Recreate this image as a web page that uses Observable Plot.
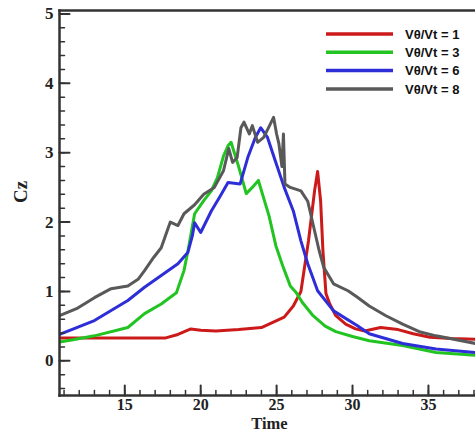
<!DOCTYPE html>
<html>
<head>
<meta charset="utf-8">
<script src="https://cdn.jsdelivr.net/npm/d3@7"></script>
<script src="https://cdn.jsdelivr.net/npm/@observablehq/plot@0.6"></script>
<style>
  html, body { margin: 0; padding: 0; background: #fff; }
  #chart svg { display: block; }
</style>
</head>
<body>
<div id="chart"></div>
<script>
// ---- data ----
const seriesNames = ["Vθ/Vt = 1", "Vθ/Vt = 3", "Vθ/Vt = 6", "Vθ/Vt = 8"];
const seriesColors = ["#cc1a1a", "#22c422", "#2e2ed8", "#595959"];

const t1 = [10.7, 12, 14, 16, 17.7, 18.5, 19.35, 20, 21, 22.5, 24, 24.5, 25.5, 26.1, 26.6, 27.1, 27.5, 27.7, 27.9, 28.05, 28.25, 28.5, 28.9, 29.55, 30.2, 30.8, 31.85, 33, 34, 35.1, 36.5, 38.1];
const v1 = [0.33, 0.33, 0.33, 0.33, 0.33, 0.38, 0.46, 0.44, 0.43, 0.45, 0.48, 0.53, 0.63, 0.79, 1.0, 1.73, 2.45, 2.73, 2.3, 1.59, 0.97, 0.82, 0.65, 0.53, 0.46, 0.43, 0.48, 0.45, 0.39, 0.34, 0.32, 0.31];

const t3 = [10.7, 11.5, 13.0, 15.2, 16.3, 17.4, 18.4, 18.9, 19.2, 19.6, 20.2, 20.7, 21.1, 21.5, 21.8, 22.0, 22.5, 23.0, 23.4, 23.8, 24.5, 24.95, 25.4, 25.9, 26.3, 26.7, 27.4, 28.2, 28.9, 30.0, 31.1, 33.3, 35.5, 38.1];
const v3 = [0.27, 0.3, 0.36, 0.48, 0.68, 0.82, 0.98, 1.3, 1.63, 2.12, 2.31, 2.45, 2.64, 2.95, 3.1, 3.15, 2.8, 2.41, 2.5, 2.6, 2.09, 1.66, 1.37, 1.08, 0.98, 0.84, 0.65, 0.5, 0.42, 0.35, 0.29, 0.22, 0.12, 0.08];

const t6 = [10.7, 11.5, 13.0, 15.2, 16.3, 17.4, 18.5, 19.15, 19.45, 19.6, 20.0, 20.7, 21.3, 21.8, 22.6, 23.1, 23.6, 23.95, 24.4, 24.9, 25.5, 26.1, 26.6, 27.05, 27.7, 28.75, 30.3, 31.1, 33.3, 35.5, 38.1];
const v6 = [0.38, 0.45, 0.58, 0.87, 1.06, 1.23, 1.4, 1.56, 1.8, 1.99, 1.85, 2.16, 2.38, 2.57, 2.55, 2.93, 3.22, 3.36, 3.22, 2.89, 2.5, 2.16, 1.73, 1.4, 1.01, 0.72, 0.51, 0.39, 0.25, 0.17, 0.12];

const t8 = [10.7, 11.9, 13.0, 14.1, 15.2, 15.9, 16.3, 16.9, 17.4, 17.8, 18.0, 18.5, 18.9, 19.6, 20.2, 20.9, 21.5, 21.85, 22.1, 22.4, 22.65, 22.85, 23.2, 23.4, 23.75, 24.15, 24.6, 24.8, 25.0, 25.15, 25.35, 25.45, 25.55, 25.9, 26.6, 27.05, 27.8, 28.1, 28.75, 29.7, 30.3, 31.1, 32.2, 33.3, 34.4, 35.5, 38.1];
const v8 = [0.65, 0.76, 0.91, 1.04, 1.08, 1.18, 1.3, 1.49, 1.63, 1.88, 2.0, 1.95, 2.12, 2.25, 2.4, 2.5, 2.74, 3.06, 2.86, 2.93, 3.36, 3.44, 3.27, 3.39, 3.15, 3.22, 3.42, 3.51, 3.27, 3.13, 2.8, 3.27, 2.55, 2.5, 2.45, 2.3, 1.59, 1.35, 1.11, 1.01, 0.92, 0.79, 0.65, 0.53, 0.42, 0.36, 0.25];

const xDomain = [10.7, 38.1];
const yDomain = [-0.5, 5.05];
const xTickLabels = [15, 20, 25, 30, 35];
const yTickLabels = [0, 1, 2, 3, 4, 5];
const xMinorTicks = d3.range(11, 39, 1);
const yMinorTicks = d3.range(-0.4, 5.01, 0.2).map(v => Math.round(v * 10) / 10);
const xLabel = "Time";
const yLabel = "Cz";

// ---- build table ----
const allT = [t1, t3, t6, t8];
const allV = [v1, v3, v6, v8];
const rows = [];
seriesNames.forEach((name, i) => {
  allT[i].forEach((t, j) => rows.push({series: name, t, v: allV[i][j]}));
});

const serif = "'Liberation Serif', 'Times New Roman', serif";
const sans = "'Liberation Sans', Arial, sans-serif";
const axisColor = "#333";

const tickShape = {draw(ctx, l) { ctx.moveTo(0, 0); ctx.lineTo(0, -l); }};

const chart = Plot.plot({
  width: 475,
  height: 434,
  marginLeft: 59,
  marginRight: 0,
  marginTop: 10,
  marginBottom: 39,
  x: {domain: xDomain},
  y: {domain: yDomain},
  color: {domain: seriesNames, range: seriesColors},
  style: {background: "#fff"},
  marks: [
    Plot.line(rows, {x: "t", y: "v", z: "series", stroke: "series", strokeWidth: 3, clip: true, curve: "linear"}),
    // minor ticks (inward)
    Plot.vector(yMinorTicks, {y: d => d, frameAnchor: "left", length: 5, rotate: 90, anchor: "start", shape: tickShape, stroke: axisColor, strokeWidth: 1.5}),
    Plot.vector(xMinorTicks, {x: d => d, frameAnchor: "bottom", length: 5, rotate: 0, anchor: "start", shape: tickShape, stroke: axisColor, strokeWidth: 1.5}),
    // major ticks (inward)
    Plot.vector(yTickLabels, {y: d => d, frameAnchor: "left", length: 10, rotate: 90, anchor: "start", shape: tickShape, stroke: axisColor, strokeWidth: 2}),
    Plot.vector(xTickLabels, {x: d => d, frameAnchor: "bottom", length: 10, rotate: 0, anchor: "start", shape: tickShape, stroke: axisColor, strokeWidth: 2}),
    Plot.axisY({ticks: yTickLabels, tickFormat: "d", tickSize: 0, tickPadding: 6, label: null, fontFamily: serif, fontWeight: "bold", fontSize: 17, color: "#222"}),
    Plot.axisX({ticks: xTickLabels, tickFormat: "d", tickSize: 0, tickPadding: 3, label: null, fontFamily: serif, fontWeight: "bold", fontSize: 16, color: "#222"}),
    Plot.frame({anchor: "left", stroke: axisColor, strokeWidth: 2.5}),
    Plot.frame({anchor: "top", stroke: axisColor, strokeWidth: 2.5}),
    Plot.frame({anchor: "bottom", stroke: axisColor, strokeWidth: 2.5}),
    Plot.text([yLabel], {text: d => d, frameAnchor: "left", dx: -39, rotate: -90, fontFamily: serif, fontWeight: "bold", fontSize: 19, fill: "#222"}),
    Plot.text([xLabel], {text: d => d, frameAnchor: "bottom", dy: 33.5, dx: 2, fontFamily: serif, fontWeight: "bold", fontSize: 16.5, fill: "#222"})
  ]
});

// legend inside the plot (top right)
const svg = d3.select(chart);
const lg = svg.append("g").attr("class", "legend").attr("text-anchor", "start");
seriesNames.forEach((name, i) => {
  const y = 34 + i * 18.3;
  lg.append("line").attr("x1", 326).attr("x2", 393).attr("y1", y).attr("y2", y)
    .attr("stroke", seriesColors[i]).attr("stroke-width", 3.5);
  lg.append("text").attr("x", 405).attr("y", y).attr("dy", "0.36em")
    .attr("text-anchor", "start")
    .attr("font-family", sans).attr("font-weight", "bold").attr("font-size", 13)
    .attr("fill", "#111").text(name);
});

document.getElementById("chart").appendChild(chart);
</script>
</body>
</html>
